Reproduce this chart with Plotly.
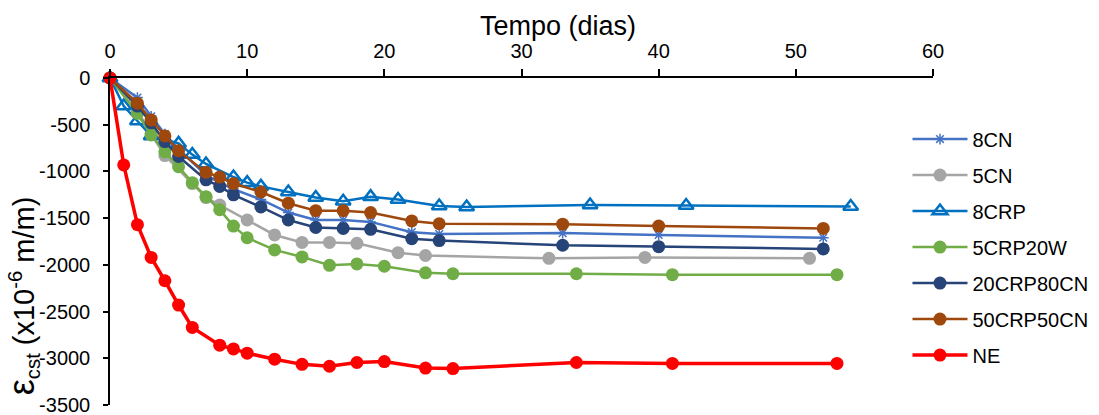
import plotly.graph_objects as go

# ---- data (days, strain x1e-6) ----
days_8cn = [0, 2, 3, 4, 5, 7, 8, 9, 11, 13, 15, 17, 19, 22, 24, 33, 40, 52]
vals_8cn = [0, -210, -410, -600, -760, -1040, -1120, -1190, -1300, -1440, -1520, -1520, -1540, -1650, -1670, -1660, -1680, -1710]

days_5cn = [0, 2, 3, 4, 6, 7, 8, 10, 12, 14, 16, 18, 21, 23, 32, 39, 51]
vals_5cn = [0, -350, -600, -830, -1130, -1280, -1360, -1520, -1680, -1760, -1760, -1770, -1870, -1900, -1930, -1920, -1930]

days_8crp = [0, 1, 2, 3, 5, 6, 7, 9, 10, 11, 13, 15, 17, 19, 21, 24, 26, 35, 42, 54]
vals_8crp = [0, -300, -460, -620, -700, -820, -920, -1060, -1120, -1160, -1220, -1280, -1320, -1270, -1300, -1370, -1380, -1360, -1365, -1375]

days_5crp20w = [0, 2, 3, 4, 5, 6, 7, 8, 9, 10, 12, 14, 16, 18, 20, 23, 25, 34, 41, 53]
vals_5crp20w = [0, -380, -610, -790, -950, -1120, -1270, -1410, -1585, -1710, -1840, -1915, -2005, -1990, -2015, -2085, -2095, -2095, -2105, -2105]

days_20crp80cn = [0, 2, 3, 4, 5, 7, 8, 9, 11, 13, 15, 17, 19, 22, 24, 33, 40, 52]
vals_20crp80cn = [0, -300, -480, -680, -840, -1090, -1160, -1250, -1380, -1520, -1600, -1610, -1620, -1720, -1740, -1790, -1805, -1830]

days_50crp50cn = [0, 2, 3, 4, 5, 7, 8, 9, 11, 13, 15, 17, 19, 22, 24, 33, 40, 52]
vals_50crp50cn = [0, -270, -450, -620, -780, -1010, -1060, -1130, -1220, -1340, -1420, -1420, -1440, -1530, -1560, -1565, -1585, -1610]

days_ne = [0, 1, 2, 3, 4, 5, 6, 8, 9, 10, 12, 14, 16, 18, 20, 23, 25, 34, 41, 53]
vals_ne = [0, -930, -1570, -1920, -2170, -2430, -2670, -2860, -2900, -2945, -3010, -3065, -3085, -3045, -3035, -3105, -3110, -3045, -3055, -3055]

ytick_vals = [0, -500, -1000, -1500, -2000, -2500, -3000, -3500]
ytick_text = ["0", "-500", "-1000", "-1500", "-2000", "-2500", "-3000", "-3500"]
xtick_vals = [0, 10, 20, 30, 40, 50, 60]

x_title = "Tempo (dias)"
y_title = "<span style='font-size:36px'>ε</span><sub>cst</sub> (x10<sup>-6</sup> m/m)"

series = [
    ("8CN", days_8cn, vals_8cn, "#4472C4", dict(symbol="asterisk-open", size=9, line=dict(color="#4472C4", width=1.5)), 2.5),
    ("5CN", days_5cn, vals_5cn, "#A5A5A5", dict(symbol="circle", size=13, color="#A5A5A5"), 2.5),
    ("8CRP", days_8crp, vals_8crp, "#0070C0", dict(symbol="triangle-up-open", size=13, color="#0070C0", line=dict(color="#0070C0", width=2.5)), 2.5),
    ("5CRP20W", days_5crp20w, vals_5crp20w, "#70AD47", dict(symbol="circle", size=13, color="#70AD47"), 2.5),
    ("20CRP80CN", days_20crp80cn, vals_20crp80cn, "#264478", dict(symbol="circle", size=13, color="#264478"), 2.5),
    ("50CRP50CN", days_50crp50cn, vals_50crp50cn, "#9E480E", dict(symbol="circle", size=13, color="#9E480E"), 2.5),
    ("NE", days_ne, vals_ne, "#FF0000", dict(symbol="circle", size=13, color="#FF0000"), 3.5),
]

fig = go.Figure()
for i, (name, xs, ys, col, mk, lw) in enumerate(series):
    fig.add_trace(go.Scatter(
        x=xs, y=ys, name=name, mode="lines+markers",
        line=dict(color=col, width=lw), marker=mk,
        cliponaxis=False, legendgroup=f"g{i}",
    ))

fig.update_layout(
    width=1099, height=415,
    margin=dict(l=110, r=166, t=78, b=10, autoexpand=False),
    paper_bgcolor="white", plot_bgcolor="white",
    font=dict(family="Liberation Sans, Arial, sans-serif", size=20, color="#000000"),
    showlegend=True,
    legend=dict(
        x=0.969, xanchor="left", y=0.873, yanchor="top",
        font=dict(size=20, color="#000000"),
        tracegroupgap=7, itemwidth=55, bgcolor="rgba(0,0,0,0)",
    ),
    xaxis=dict(
        side="top", range=[0, 60], tickvals=xtick_vals,
        showline=True, linecolor="#000000", linewidth=1.5,
        ticks="outside", ticklen=7, tickcolor="#000000", tickwidth=1.5,
        ticklabelstandoff=3, automargin=False,
        showgrid=False, zeroline=False,
        tickfont=dict(size=20),
    ),
    yaxis=dict(
        range=[-3500, 0], tickvals=ytick_vals, ticktext=ytick_text,
        showline=True, linecolor="#000000", linewidth=1.5,
        ticks="outside", ticklen=5, tickcolor="#000000", tickwidth=1.5,
        ticklabelstandoff=9, ticklabeloverflow="allow", automargin=False,
        showgrid=False, zeroline=False,
        tickfont=dict(size=20),
    ),
    annotations=[
        dict(text=x_title, xref="paper", yref="paper", x=0.544, y=1.16,
             xanchor="center", yanchor="middle", showarrow=False,
             font=dict(size=27)),
        dict(text=y_title, xref="paper", yref="paper", x=-0.106, y=0.335,
             xanchor="center", yanchor="middle", showarrow=False, textangle=-90,
             font=dict(size=29)),
    ],
)

fig.write_html("out.html")
